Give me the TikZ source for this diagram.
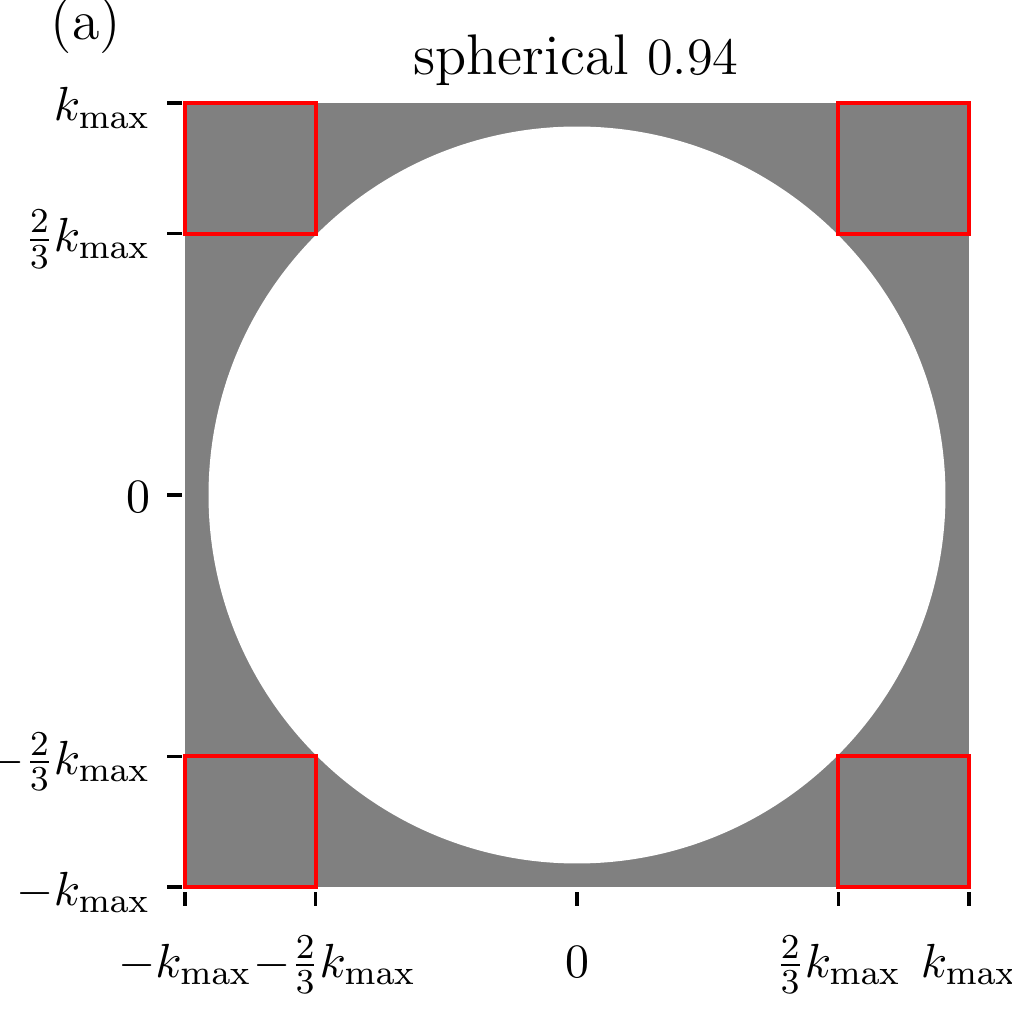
\documentclass[tikz,border=0pt]{standalone}
\usepackage{amsmath}
\usetikzlibrary{positioning}
\newcommand{\kmax}{k_{\max}}

\begin{document}
\begin{tikzpicture}[x=0.008034cm,y=0.008034cm,
  ticklab/.style={font=\fontsize{11}{14}\selectfont, inner sep=0pt},
  tickmark/.style={line width=0.75pt},
  cornerbox/.style={draw=red, line width=0.85pt}]
\useasboundingbox (-577,-517) rectangle (435,495);
\def\h{392}
\def\t{261.3}
% grey square with the white disc cut out
\fill[gray] (-\h,-\h) rectangle (\h,\h);
\fill[white] (0,0) circle (0.94*\h);
% corner boxes
\foreach \sx in {-1,1} {
  \foreach \sy in {-1,1} {
    \draw[cornerbox] (\sx*\h,\sy*\h) rectangle (\sx*\t,\sy*\t);
  }
}
% ticks and tick labels
\foreach \v/\lab/\nm/\dx in {-1/-\kmax/mone/0, -0.6667/-\frac{2}{3}\kmax/mtwo/19,
    0/0/zero/0, 0.6667/\frac{2}{3}\kmax/ptwo/0, 1/\kmax/pone/0} {
  \draw[tickmark] (-395,\v*\h) -- (-410,\v*\h);
  \draw[tickmark] (\v*\h,-397) -- (\v*\h,-411);
  \node[ticklab, anchor=base east] (ylab\nm) at (-426,\v*\h-18) {$\lab$};
  \node[ticklab, anchor=base] (xlab\nm) at (\v*\h+\dx,-482) {$\lab$};
}
\node[font=\fontsize{13.1}{16}\selectfont, inner sep=0pt, anchor=base] (title) at (-1,420) {spherical $0.94$};
\node[font=\fontsize{12.8}{16}\selectfont, inner sep=0pt, anchor=base west] (panel) at (-527,455) {(a)};
\end{tikzpicture}
\end{document}
